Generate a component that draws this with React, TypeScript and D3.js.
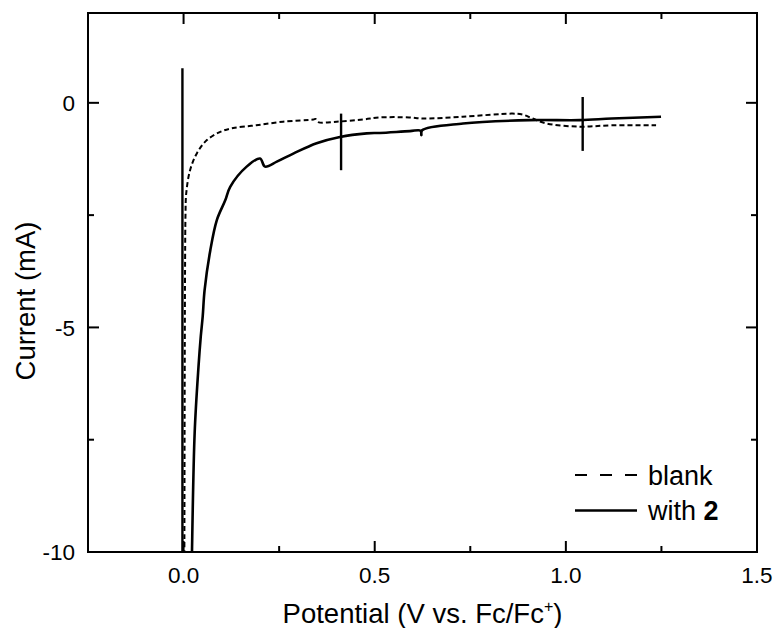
import React, { useEffect, useRef } from 'react';
import * as d3 from 'd3';

// potential (V vs Fc/Fc+) and current (mA)
const blankV = [0.002, 0.003, 0.004, 0.005, 0.007, 0.017, 0.035, 0.061, 0.096, 0.13, 0.19, 0.26, 0.34, 0.345, 0.352, 0.4, 0.47, 0.513, 0.59, 0.626, 0.73, 0.86, 0.887, 0.913, 0.949, 1.036, 1.12, 1.236];
const blankI = [-10.6, -6, -3.5, -2.5, -2.01, -1.5, -1.12, -0.83, -0.645, -0.56, -0.5, -0.42, -0.37, -0.36, -0.43, -0.42, -0.37, -0.325, -0.325, -0.35, -0.31, -0.24, -0.26, -0.35, -0.46, -0.53, -0.5, -0.5];

const withV = [0.021, 0.022, 0.029, 0.039, 0.045, 0.05, 0.055, 0.07, 0.087, 0.109, 0.122, 0.165, 0.2, 0.213, 0.244, 0.287, 0.348, 0.409, 0.479, 0.513, 0.592, 0.62, 0.622, 0.624, 0.731, 0.905, 1.036, 1.12, 1.249];
const withI = [-10.6, -10.0, -7.35, -5.88, -5.2, -4.76, -4.17, -3.28, -2.61, -2.17, -1.87, -1.42, -1.24, -1.42, -1.31, -1.13, -0.9, -0.76, -0.68, -0.67, -0.63, -0.62, -0.72, -0.61, -0.46, -0.385, -0.385, -0.35, -0.31];

// vertical glitches in the "with 2" trace
const spikeV = [-0.003, 0.412, 1.044];
const spikeTop = [0.77, -0.24, 0.13];
const spikeBottom = [-10.6, -1.5, -1.07];

const xMajor = [0, 0.5, 1.0, 1.5];
const xMinor = [-0.25, 0.25, 0.75, 1.25];
const yMajor = [-10, -5, 0];
const yMinor = [-7.5, -2.5];

const legendNames = ['blank', 'with'];

export default function App() {
  const ref = useRef<SVGSVGElement>(null);

  useEffect(() => {
    const svg = d3.select(ref.current);
    svg.selectAll('*').remove();

    const left = 88, right = 757, top = 13, bottom = 552;
    const font = '"Liberation Sans", Arial, sans-serif';

    const x = d3.scaleLinear().domain([-0.25, 1.5]).range([left, right]);
    const y = d3.scaleLinear().domain([-10, 2]).range([bottom, top]);

    svg.append('defs').append('clipPath').attr('id', 'plotclip')
      .append('rect')
      .attr('x', left).attr('y', top)
      .attr('width', right - left).attr('height', bottom - top);

    const plot = svg.append('g').attr('clip-path', 'url(#plotclip)');

    const line = d3.line<[number, number]>()
      .x((d) => x(d[0]))
      .y((d) => y(d[1]));
    const smooth = d3.line<[number, number]>()
      .x((d) => x(d[0]))
      .y((d) => y(d[1]))
      .curve(d3.curveCatmullRom.alpha(0.5));

    const blank = blankV.map((v, i) => [v, blankI[i]] as [number, number]);
    const withTwo = withV.map((v, i) => [v, withI[i]] as [number, number]);

    plot.append('path')
      .attr('d', smooth(blank))
      .attr('fill', 'none')
      .attr('stroke', '#000')
      .attr('stroke-width', 2)
      .attr('stroke-dasharray', '5,3');

    plot.append('path')
      .attr('d', smooth(withTwo))
      .attr('fill', 'none')
      .attr('stroke', '#000')
      .attr('stroke-width', 2.6)
      .attr('stroke-linejoin', 'round');

    spikeV.forEach((v, i) => {
      plot.append('path')
        .attr('d', line([[v, spikeTop[i]], [v, spikeBottom[i]]]))
        .attr('stroke', '#000')
        .attr('stroke-width', 2.4);
    });

    // frame
    svg.append('rect')
      .attr('x', left).attr('y', top)
      .attr('width', right - left).attr('height', bottom - top)
      .attr('fill', 'none')
      .attr('stroke', '#000')
      .attr('stroke-width', 2);

    // inward ticks on all four sides
    const ticks = svg.append('g').attr('stroke', '#000').attr('stroke-width', 2);
    const addX = (vals: number[], len: number) => {
      vals.forEach((v) => {
        ticks.append('line').attr('x1', x(v)).attr('x2', x(v)).attr('y1', bottom).attr('y2', bottom - len);
        ticks.append('line').attr('x1', x(v)).attr('x2', x(v)).attr('y1', top).attr('y2', top + len);
      });
    };
    const addY = (vals: number[], len: number) => {
      vals.forEach((v) => {
        ticks.append('line').attr('x1', left).attr('x2', left + len).attr('y1', y(v)).attr('y2', y(v));
        ticks.append('line').attr('x1', right).attr('x2', right - len).attr('y1', y(v)).attr('y2', y(v));
      });
    };
    addX(xMajor, 11);
    addX(xMinor, 6);
    addY(yMajor, 11);
    addY(yMinor, 6);

    svg.append('g').selectAll('text')
      .data(xMajor)
      .enter()
      .append('text')
      .attr('x', (d) => x(d))
      .attr('y', 583)
      .attr('text-anchor', 'middle')
      .attr('font-family', font)
      .attr('font-size', 22.5)
      .text((d) => d3.format('.1f')(d));

    svg.append('g').selectAll('text')
      .data(yMajor)
      .enter()
      .append('text')
      .attr('x', 75)
      .attr('y', (d) => y(d))
      .attr('dy', '0.36em')
      .attr('text-anchor', 'end')
      .attr('font-family', font)
      .attr('font-size', 22.5)
      .text((d) => String(d));

    // axis titles
    const xt = svg.append('text')
      .attr('x', (left + right) / 2)
      .attr('y', 623)
      .attr('text-anchor', 'middle')
      .attr('font-family', font)
      .attr('font-size', 27.5);
    xt.append('tspan').text('Potential (V vs. Fc/Fc');
    xt.append('tspan').attr('dy', -11).attr('font-size', 16).text('+');
    xt.append('tspan').attr('dy', 11).text(')');

    svg.append('text')
      .attr('transform', 'translate(34.5,301) rotate(-90)')
      .attr('text-anchor', 'middle')
      .attr('font-family', font)
      .attr('font-size', 27.5)
      .text('Current (mA)');

    // legend
    const lg = svg.append('g');
    lg.append('line')
      .attr('x1', 575).attr('x2', 637).attr('y1', 475).attr('y2', 475)
      .attr('stroke', '#000').attr('stroke-width', 2)
      .attr('stroke-dasharray', '12,13');
    lg.append('text')
      .attr('x', 648).attr('y', 485)
      .attr('font-family', font).attr('font-size', 27)
      .text(legendNames[0]);
    lg.append('line')
      .attr('x1', 575).attr('x2', 637).attr('y1', 510.5).attr('y2', 510.5)
      .attr('stroke', '#000').attr('stroke-width', 2.4);
    const t2 = lg.append('text')
      .attr('x', 648).attr('y', 520)
      .attr('font-family', font).attr('font-size', 27);
    t2.append('tspan').text(legendNames[1] + ' ');
    t2.append('tspan').attr('font-weight', 'bold').text('2');
  }, []);

  return (
    <svg
      ref={ref}
      width={778}
      height={628}
      style={{ position: 'absolute', left: 0, top: 0, background: '#fff' }}
    />
  );
}
